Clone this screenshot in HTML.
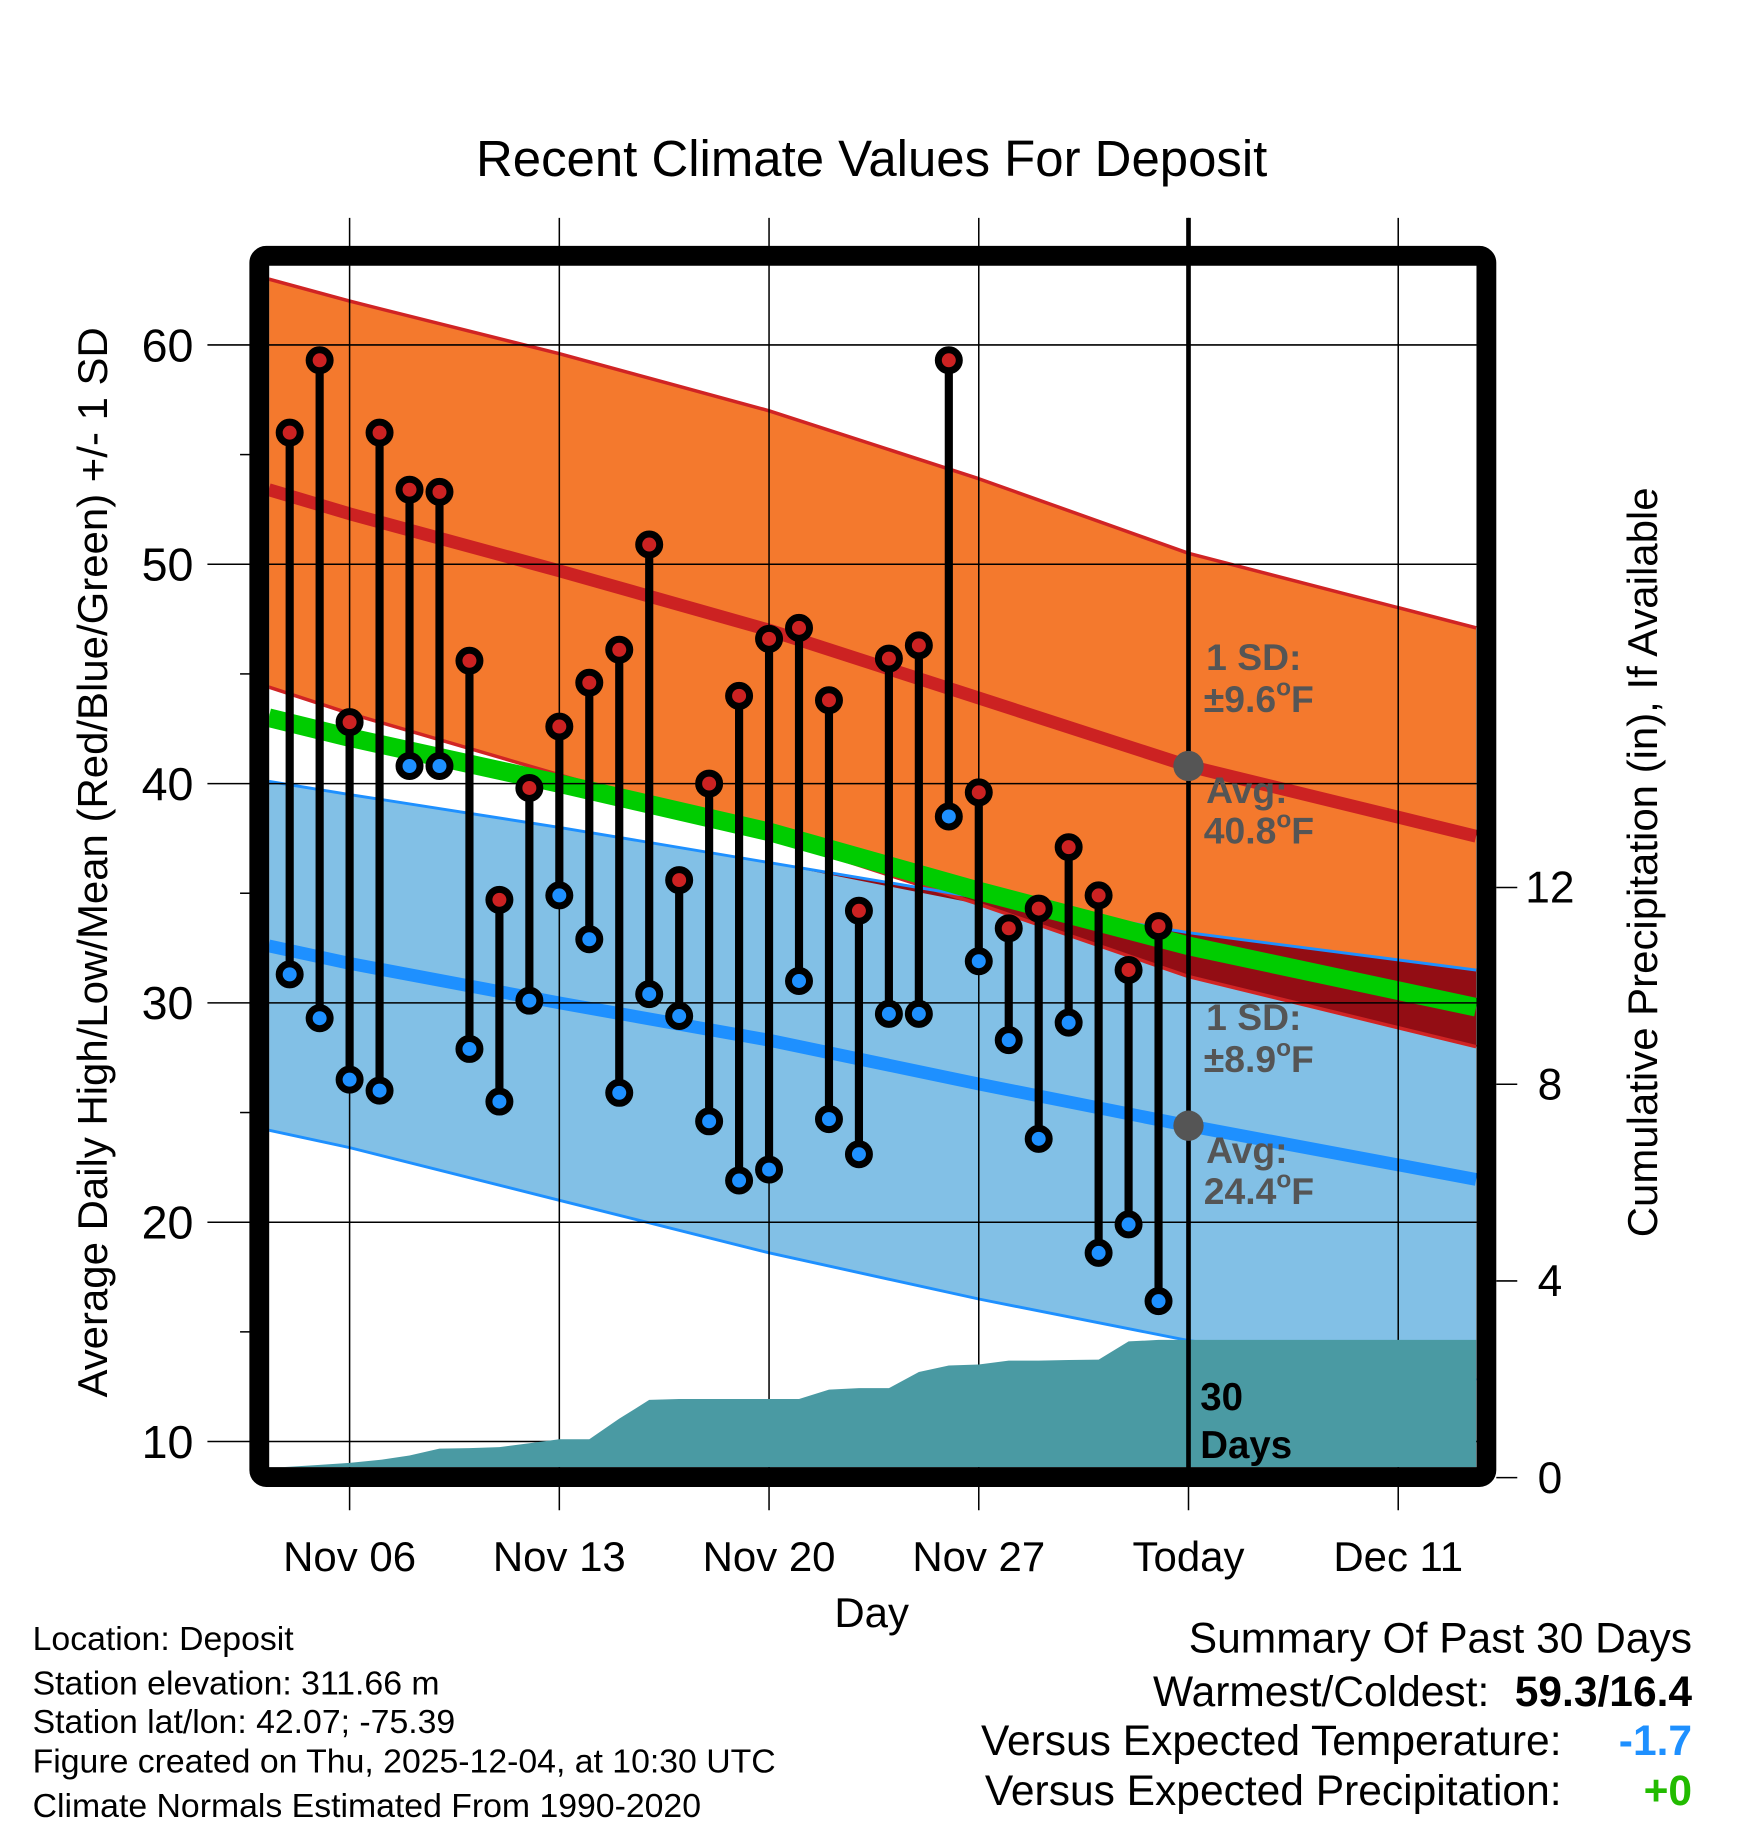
<!DOCTYPE html>
<html><head><meta charset="utf-8"><style>
html,body{margin:0;padding:0;background:#fff}
svg{display:block}
text{font-family:"Liberation Sans",Arial,sans-serif}
</style></head><body>
<svg id="chart" width="1748" height="1828" viewBox="0 0 1500 1568.65" xmlns="http://www.w3.org/2000/svg">
<defs><clipPath id="plotclip"><rect x="231" y="231" width="1036" height="1028"/></clipPath></defs>
<text x="748" y="151" font-size="43.7" text-anchor="middle">Recent Climate Values For Deposit</text>
<g id="bands" clip-path="url(#plotclip)"></g>
<g id="grid"></g>
<g id="precip" clip-path="url(#plotclip)"></g>
<g id="labels">
<text font-size="32" font-weight="bold" fill="#555"><tspan x="1035" y="575">1 SD:</tspan><tspan x="1033" y="611">±9.6<tspan font-size="21" dy="-14">o</tspan><tspan dy="14">F</tspan></tspan></text>
<text font-size="32" font-weight="bold" fill="#555"><tspan x="1035" y="689">Avg:</tspan><tspan x="1033" y="724">40.8<tspan font-size="21" dy="-14">o</tspan><tspan dy="14">F</tspan></tspan></text>
<text font-size="32" font-weight="bold" fill="#555"><tspan x="1035" y="884">1 SD:</tspan><tspan x="1033" y="920">±8.9<tspan font-size="21" dy="-14">o</tspan><tspan dy="14">F</tspan></tspan></text>
<text font-size="32" font-weight="bold" fill="#555"><tspan x="1035" y="998">Avg:</tspan><tspan x="1033" y="1033">24.4<tspan font-size="21" dy="-14">o</tspan><tspan dy="14">F</tspan></tspan></text>
<text font-size="33" font-weight="bold" fill="#000"><tspan x="1030" y="1210">30</tspan><tspan x="1030" y="1251">Days</tspan></text>
</g>
<g id="marks"></g>
<rect x="222.5" y="219.5" width="1053" height="1048" rx="6" fill="none" stroke="#000" stroke-width="17"/>
<text x="748" y="1396" font-size="36" text-anchor="middle">Day</text>
<text transform="translate(92,740) rotate(-90)" font-size="36" text-anchor="middle">Average Daily High/Low/Mean (Red/Blue/Green) +/- 1 SD</text>
<text transform="translate(1422,740) rotate(-90)" font-size="36" text-anchor="middle">Cumulative Precipitation (in), If Available</text>
<g font-size="29">
<text x="28" y="1416">Location: Deposit</text>
<text x="28" y="1454">Station elevation: 311.66 m</text>
<text x="28" y="1487">Station lat/lon: 42.07; -75.39</text>
<text x="28" y="1521">Figure created on Thu, 2025-12-04, at 10:30 UTC</text>
<text x="28" y="1559">Climate Normals Estimated From 1990-2020</text>
</g>
<g font-size="36.5">
<text x="1452" y="1418" text-anchor="end">Summary Of Past 30 Days</text>
<text x="1278" y="1464" text-anchor="end">Warmest/Coldest:</text>
<text x="1452" y="1464" text-anchor="end" font-weight="bold">59.3/16.4</text>
<text x="1340" y="1506" text-anchor="end">Versus Expected Temperature:</text>
<text x="1452" y="1506" text-anchor="end" font-weight="bold" fill="#1e90ff">-1.7</text>
<text x="1340" y="1549" text-anchor="end">Versus Expected Precipitation:</text>
<text x="1452" y="1549" text-anchor="end" font-weight="bold" fill="#22bb00">+0</text>
</g>
</svg>
<script>
// day index: day-of-November (Dec 1 = 31)
const obsDays = [4,5,6,7,8,9,10,11,12,13,14,15,16,17,18,19,20,21,22,23,24,25,26,27,28,29,30,31,32,33];
const highs = [56.0,59.3,42.8,56.0,53.4,53.3,45.6,34.7,39.8,42.6,44.6,46.1,50.9,35.6,40.0,44.0,46.6,47.1,43.8,34.2,45.7,46.3,59.3,39.6,33.4,34.3,37.1,34.9,31.5,33.5];
const lows = [31.3,29.3,26.5,26.0,40.8,40.8,27.9,25.5,30.1,34.9,32.9,25.9,30.4,29.4,24.6,21.9,22.4,31.0,24.7,23.1,29.5,29.5,38.5,31.9,28.3,23.8,29.1,18.6,19.9,16.4];
const normDays = [3.3,6,13,20,27,34,43.6];
const hiUpper = [63.0,62.0,59.6,57.0,53.9,50.5,47.1];
const hiAvg = [53.4,52.3,49.7,47.0,43.9,40.8,37.6];
const hiLower = [44.4,43.2,40.4,37.6,34.5,31.2,28.0];
const loUpper = [40.1,39.5,38.0,36.4,34.8,33.2,31.5];
const loAvg = [32.6,31.8,30.0,28.3,26.3,24.4,21.95];
const loLower = [24.2,23.4,21.0,18.6,16.5,14.6,12.8];
const meanT = [43.0,42.1,40.0,37.8,35.1,32.6,29.8];
const precipDays = [3.3,4,5,6,7,8,9,10,11,12,13,14,15,16,17,18,19,20,21,22,23,24,25,26,27,28,29,30,31,32,33,43.6];
const precipVals = [0.2,0.22,0.26,0.3,0.36,0.45,0.59,0.6,0.62,0.7,0.78,0.78,1.2,1.58,1.6,1.6,1.6,1.6,1.6,1.79,1.82,1.82,2.15,2.28,2.3,2.38,2.38,2.39,2.4,2.77,2.8,2.8];
const xTickDays = [6,13,20,27,34,41];
const xTickLabels = ["Nov 06","Nov 13","Nov 20","Nov 27","Today","Dec 11"];
const yTicks = [10,20,30,40,50,60];
const y2Ticks = [0,4,8,12];
const todayDay = 34;

const NS="http://www.w3.org/2000/svg";
const X = d => 300 + (d-6)*25.71;
const Y = t => 296 + (60-t)*18.82;
const Y2 = p => 1268 - p*42.2;
function mk(tag, attrs, parent){const e=document.createElementNS(NS,tag);for(const k in attrs)e.setAttribute(k,attrs[k]);parent.appendChild(e);return e;}
const bands=document.getElementById('bands'), grid=document.getElementById('grid'), precip=document.getElementById('precip'), marks=document.getElementById('marks');
function pts(days, vals, f){return days.map((d,i)=>X(d).toFixed(1)+','+f(vals[i]).toFixed(1));}
function band(top,bot,fill,name){
  const p=pts(normDays,top,Y).concat(pts(normDays,bot,Y).reverse());
  const e=mk('polygon',{points:p.join(' '),fill:fill},bands);
  
  
}
function line(vals,stroke,w,name,g){
  const e=mk('polyline',{points:pts(normDays,vals,Y).join(' '),fill:'none',stroke:stroke,'stroke-width':w,'stroke-linejoin':'round'},g||bands);
  
  
}
band(hiUpper,hiLower,'#f4792d','high-sd-band');
band(loUpper,loLower,'#82c0e6','low-sd-band');
const ovBot = hiLower.map((v,i)=>Math.min(v,loUpper[i]));
band(loUpper,ovBot,'#930d14','overlap-band');
line(hiUpper,'#d02424',3,'high-upper-line');
line(hiLower,'#d02424',3,'high-lower-line');
line(loUpper,'#1e90ff',2.5,'low-upper-line');
line(loLower,'#1e90ff',2.5,'low-lower-line');
line(hiAvg,'#cc2222',11,'high-avg-line');
line(loAvg,'#1e90ff',11,'low-avg-line');
line(meanT,'#00cc00',16,'mean-line');

// grid
xTickDays.forEach((d,i)=>{
  const gl=mk('line',{x1:X(d),x2:X(d),y1:187,y2:1296,stroke:'#000','stroke-width':1.3},grid);
  
  
  const t=mk('text',{x:X(d),y:1348,'font-size':36,'text-anchor':'middle'},grid);
  t.textContent=xTickLabels[i];
  
  
});
yTicks.forEach(v=>{
  const gl=mk('line',{x1:178,x2:1267,y1:Y(v),y2:Y(v),stroke:'#000','stroke-width':1.3},grid);
  
  
  const t=mk('text',{x:166,y:Y(v)+14,'font-size':40,'text-anchor':'end'},grid);
  t.textContent=v;
  
  
  if(v<60){const m=mk('line',{x1:206,x2:216,y1:Y(v+5),y2:Y(v+5),stroke:'#000','stroke-width':1.3},grid);
  
  }
});
y2Ticks.forEach(v=>{
  const m=mk('line',{x1:1284,x2:1302,y1:Y2(v),y2:Y2(v),stroke:'#000','stroke-width':1.3},grid);
  
  
  const t=mk('text',{x:1330,y:Y2(v)+13,'font-size':38,'text-anchor':'middle'},grid);
  t.textContent=v;
  
  
});

// precip
const pp=pts(precipDays,precipVals,Y2);
pp.push(X(precipDays[precipDays.length-1]).toFixed(1)+',1300');
pp.push(X(precipDays[0]).toFixed(1)+',1300');
const pa=mk('polygon',{points:pp.join(' '),fill:'#4a9aa3'},precip);



// today
const tl=mk('line',{x1:X(todayDay),x2:X(todayDay),y1:187,y2:1262,stroke:'#000','stroke-width':4},marks);


const g1=mk('circle',{cx:X(todayDay),cy:Y(hiAvg[5]),r:13,fill:'#555'},marks);


const g2=mk('circle',{cx:X(todayDay),cy:Y(loAvg[5]),r:13,fill:'#555'},marks);



obsDays.forEach((d,i)=>{
  const x=X(d);
  const s=mk('line',{x1:x,x2:x,y1:Y(highs[i]),y2:Y(lows[i]),stroke:'#000','stroke-width':7},marks);
  
  
  const h=mk('circle',{cx:x,cy:Y(highs[i]),r:9,fill:'#cc2222',stroke:'#000','stroke-width':6},marks);
  
  
  const l=mk('circle',{cx:x,cy:Y(lows[i]),r:9,fill:'#1e90ff',stroke:'#000','stroke-width':6},marks);
  
  
});
</script>
</body></html>
